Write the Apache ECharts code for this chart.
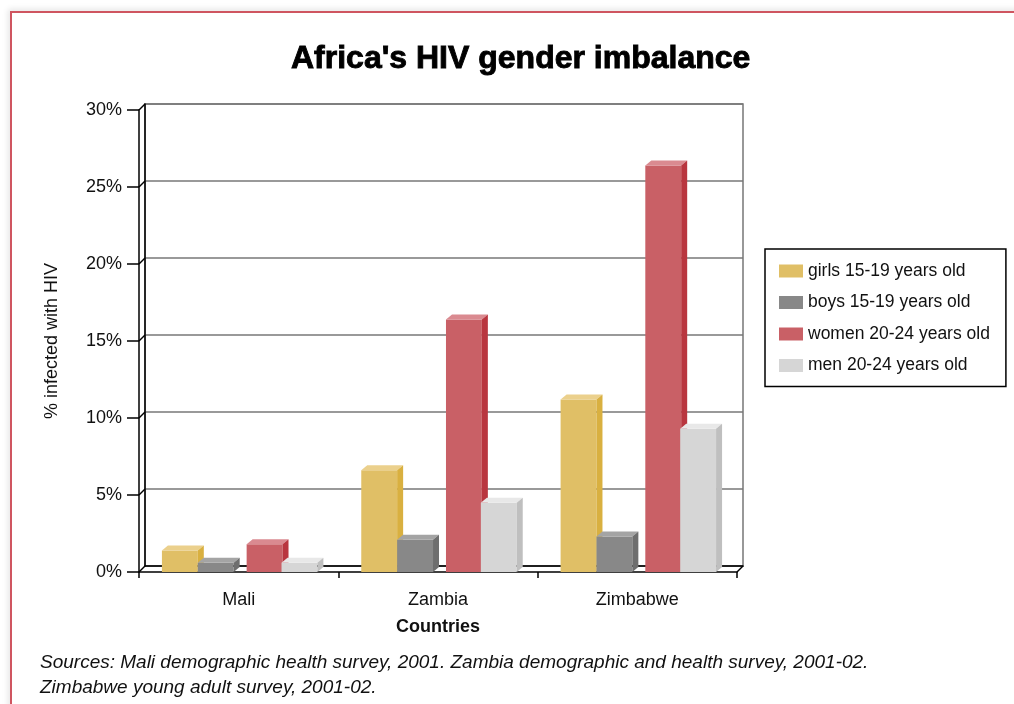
<!DOCTYPE html>
<html>
<head>
<meta charset="utf-8">
<script src="https://cdn.jsdelivr.net/npm/echarts@6/dist/echarts.min.js"></script>
<style>
  html, body { margin: 0; padding: 0; background: #ffffff; width: 1014px; height: 704px; overflow: hidden; }
  #frame { position: absolute; left: 10px; top: 11px; width: 1010px; height: 700px; background: #fff;
           border-left: 2px solid #cf5560; border-top: 2px solid #cf5560; box-shadow: -2px -2px 6px rgba(0,0,0,0.10); }
  #chart { position: absolute; left: 0; top: 0; width: 1014px; height: 704px; }
</style>
</head>
<body>
<div id="frame"></div>
<div id="chart"></div>
<script>
// ---- data ----
const categories = ['Mali', 'Zambia', 'Zimbabwe'];
const seriesNames = ['girls 15-19 years old', 'boys 15-19 years old', 'women 20-24 years old', 'men 20-24 years old'];
const girls = [1.4, 6.6, 11.2];
const boys = [0.6, 2.1, 2.3];
const women = [1.8, 16.4, 26.4];
const men = [0.6, 4.5, 9.3];
const yTicks = [0, 5, 10, 15, 20, 25, 30];
const title = "Africa's HIV gender imbalance";
const xName = 'Countries';
const yName = '% infected with HIV';
const sourceNote = 'Sources: Mali demographic health survey, 2001. Zambia demographic and health survey, 2001-02.\nZimbabwe young adult survey, 2001-02.';

// ---- styles ----
const faces = [
  { front: '#e0bf66', side: '#d9b040', top: '#ebd08c' },
  { front: '#888888', side: '#6e6e6e', top: '#a4a4a4' },
  { front: '#c96066', side: '#b9363f', top: '#da8a90' },
  { front: '#d6d6d6', side: '#bfbfbf', top: '#e8e8e8' }
];
const OFFS = [0.115, 0.295, 0.54, 0.715];
const BWF = 0.18;
const DX = 6, DY = -5;
const FONT = '"Liberation Sans", Arial, sans-serif';

function makeRender(idx) {
  return function (params, api) {
    const cat = api.value(0), v = api.value(1);
    const base = api.coord([cat, 0]);
    const top = api.coord([cat, v]);
    const bw = api.size([1, 0])[0];
    const x0 = base[0] - bw / 2 + bw * OFFS[idx];
    const w = bw * BWF;
    const yb = base[1], yt = top[1];
    const f = faces[idx];
    return {
      type: 'group',
      children: [
        { type: 'rect', shape: { x: x0, y: yt, width: w, height: yb - yt }, style: { fill: f.front } },
        { type: 'polygon', shape: { points: [[x0, yt], [x0 + DX, yt + DY], [x0 + w + DX, yt + DY], [x0 + w, yt]] }, style: { fill: f.top } },
        { type: 'polygon', shape: { points: [[x0 + w, yt], [x0 + w + DX, yt + DY], [x0 + w + DX, yb + DY], [x0 + w, yb]] }, style: { fill: f.side } }
      ]
    };
  };
}

const allData = [girls, boys, women, men];
const series = allData.map((arr, i) => ({
  name: seriesNames[i],
  type: 'custom',
  xAxisIndex: 0, yAxisIndex: 0,
  itemStyle: { color: faces[i].front },
  renderItem: makeRender(i),
  encode: { x: 0, y: 1 },
  data: arr.map((v, j) => [j, v]),
  z: 10
}));

const chart = echarts.init(document.getElementById('chart'), null, { renderer: 'canvas' });
const G0 = { left: 139, right: 277, top: 110, bottom: 132 };
const G1 = { left: 145, right: 271, top: 104, bottom: 138 };

chart.setOption({
  animation: false,
  backgroundColor: 'transparent',
  textStyle: { fontFamily: FONT },
  title: {
    text: title, left: 286, top: 38,
    textStyle: { fontFamily: FONT, fontSize: 32, fontWeight: 'bold', color: '#000', textBorderColor: '#000', textBorderWidth: 0.9 }
  },
  legend: {
    orient: 'vertical', left: 765, top: 249,
    padding: [13, 16, 12, 14],
    borderColor: '#000', borderWidth: 1.5,
    itemWidth: 24, itemHeight: 13, itemGap: 13.5, itemStyle: { borderWidth: 0 },
    icon: 'rect',
    textStyle: { fontFamily: FONT, fontSize: 17.5, color: '#111' },
    data: seriesNames
  },
  grid: [
    Object.assign({ show: false, containLabel: false }, G0),
    Object.assign({ show: true, borderColor: '#777', borderWidth: 1.5, backgroundColor: '#fff', containLabel: false }, G1)
  ],
  xAxis: [
    {
      type: 'category', gridIndex: 0, data: categories,
      axisLine: { show: true, lineStyle: { color: '#000', width: 1.5 } },
      axisTick: { show: true, length: 6, lineStyle: { color: '#000', width: 1.5 } },
      axisLabel: { margin: 19, fontSize: 18, color: '#111', fontFamily: FONT },
      name: xName, nameLocation: 'middle', nameGap: 46,
      nameTextStyle: { fontSize: 18, fontWeight: 'bold', color: '#111', fontFamily: FONT },
      z: 5
    },
    {
      type: 'category', gridIndex: 1, data: categories,
      axisLine: { show: true, lineStyle: { color: '#000', width: 1.5 } },
      axisTick: { show: false }, axisLabel: { show: false }
    }
  ],
  yAxis: [
    {
      type: 'value', gridIndex: 0, min: yTicks[0], max: yTicks[yTicks.length - 1], interval: 5,
      axisLine: { show: true, lineStyle: { color: '#000', width: 1.5 } },
      axisTick: { show: true, length: 12, lineStyle: { color: '#000', width: 1.5 } },
      axisLabel: { formatter: '{value}%', margin: 17, fontSize: 18, color: '#111', fontFamily: FONT },
      splitLine: { show: false },
      name: yName, nameLocation: 'middle', nameGap: 78, nameRotate: 90,
      nameTextStyle: { fontSize: 18, color: '#111', fontFamily: FONT },
      z: 5
    },
    {
      type: 'value', gridIndex: 1, min: yTicks[0], max: yTicks[yTicks.length - 1], interval: 5,
      axisLine: { show: true, lineStyle: { color: '#000', width: 1.5 } },
      axisTick: { show: false }, axisLabel: { show: false },
      splitLine: { show: true, lineStyle: { color: '#777', width: 1.5 } }
    }
  ],
  series: series
});

// depth connectors (front axis ticks to back wall, floor corners), computed through the axes
const gfx = [];
yTicks.forEach(v => {
  const yf = chart.convertToPixel({ yAxisIndex: 0 }, v);
  const yb = chart.convertToPixel({ yAxisIndex: 1 }, v);
  gfx.push({ type: 'line', shape: { x1: G0.left, y1: yf, x2: G1.left, y2: yb }, style: { stroke: '#000', lineWidth: 1.5 }, z: 4 });
});
const y0f = chart.convertToPixel({ yAxisIndex: 0 }, 0);
const y0b = chart.convertToPixel({ yAxisIndex: 1 }, 0);
const xr0 = 1014 - G0.right, xr1 = 1014 - G1.right;
gfx.push({ type: 'line', shape: { x1: xr0, y1: y0f, x2: xr1, y2: y0b }, style: { stroke: '#000', lineWidth: 1.5 }, z: 4 });
gfx.push({
  type: 'text', left: 40, top: 650, z: 20,
  style: { text: sourceNote, font: 'italic 19px ' + FONT, fill: '#111', lineHeight: 25 }
});
chart.setOption({ graphic: gfx });
</script>
</body>
</html>
